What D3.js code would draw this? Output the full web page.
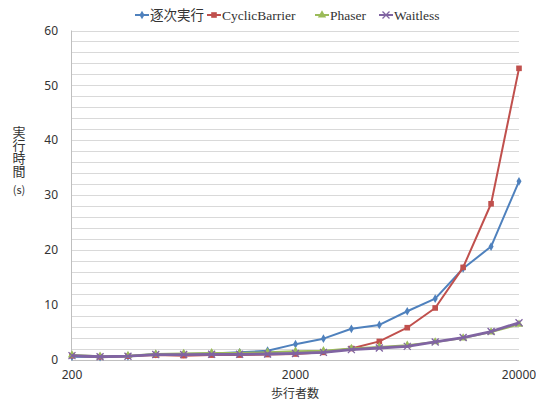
<!DOCTYPE html>
<html><head><meta charset="utf-8">
<script src="https://cdn.jsdelivr.net/npm/d3@7"></script>
<style>body{margin:0;background:#fff}svg{display:block}</style>
</head><body><svg id="c" width="536" height="401"></svg>
<script>
const walkers = [200, 267, 356, 474, 632, 843, 1125, 1500, 2000, 2667, 3557, 4743, 6325, 8434, 11247, 15000, 20000];
const sequential = [0.5, 0.45, 0.55, 1.0, 1.0, 1.1, 1.3, 1.6, 2.8, 3.8, 5.6, 6.3, 8.8, 11.1, 16.6, 20.6, 32.5];
const cyclicBarrier = [0.7, 0.5, 0.6, 0.8, 0.7, 0.8, 0.8, 0.9, 1.0, 1.3, 2.0, 3.3, 5.8, 9.4, 16.8, 28.4, 53.1];
const phaser = [0.8, 0.6, 0.7, 1.0, 1.1, 1.2, 1.2, 1.3, 1.5, 1.6, 2.0, 2.3, 2.6, 3.2, 3.9, 5.0, 6.4];
const waitless = [0.7, 0.5, 0.6, 0.9, 0.9, 0.95, 0.95, 1.0, 1.1, 1.3, 1.8, 2.1, 2.4, 3.2, 4.0, 5.1, 6.7];
const seriesNames = ["逐次実行", "CyclicBarrier", "Phaser", "Waitless"];
const seriesColors = ["#4F81BD", "#C0504D", "#9BBB59", "#8064A2"];
const xTicks = [200, 2000, 20000];
const yTicks = [0, 10, 20, 30, 40, 50, 60];
const yGrid = d3.range(0, 61, 2);
const yTitle = "実行時間";
const yUnit = "(s)";
const xTitle = "歩行者数";

const svg = d3.select("#c");
const x = d3.scaleLog().domain([200, 20000]).range([72, 519]);
const y = d3.scaleLinear().domain([0, 60]).range([359.5, 30.5]);
const L = 71, R = 519;

svg.append("g").selectAll("line").data(yGrid).join("line")
  .attr("x1", L).attr("x2", R)
  .attr("y1", d => Math.round(y(d)) + 0.5).attr("y2", d => Math.round(y(d)) + 0.5)
  .attr("stroke", d => d === 0 ? "#bfbfbf" : "#d9d9d9").attr("stroke-width", 1);
svg.append("line").attr("x1", L + 0.5).attr("x2", L + 0.5).attr("y1", y(60)).attr("y2", y(0))
  .attr("stroke", "#bfbfbf");

const tickFont = "'Noto Sans', 'DejaVu Sans', sans-serif";
svg.append("g").selectAll("text").data(yTicks).join("text")
  .attr("x", 58).attr("y", d => y(d)).attr("dy", "0.35em")
  .attr("text-anchor", "end").attr("font-family", tickFont).attr("font-size", 12).attr("fill", "#333")
  .text(d => d);
svg.append("g").selectAll("text").data(xTicks).join("text")
  .attr("x", d => x(d)).attr("y", 379)
  .attr("text-anchor", "middle").attr("font-family", tickFont).attr("font-size", 12).attr("fill", "#333")
  .text(d => d);

const cjk = "'Noto Sans CJK JP', 'Noto Sans', sans-serif";
svg.append("text").attr("x", 295).attr("y", 397.5).attr("text-anchor", "middle")
  .attr("font-family", cjk).attr("font-size", 12).attr("fill", "#333").text(xTitle);
svg.append("text").attr("x", 19).attr("y", 126)
  .attr("writing-mode", "vertical-rl").attr("text-anchor", "start")
  .attr("font-family", cjk).attr("font-size", 13).attr("fill", "#333").text(yTitle);
svg.append("text").attr("x", 19).attr("y", 194).attr("text-anchor", "middle")
  .attr("font-family", cjk).attr("font-size", 11).attr("fill", "#333").text(yUnit);

const allSeries = [sequential, cyclicBarrier, phaser, waitless];
const line = d3.line().x((d, i) => x(walkers[i])).y(d => y(d));

function marker(g, type, color, cx, cy) {
  if (type === 0) {
    g.append("path").attr("d", d3.symbol(d3.symbolDiamond, 22)()).attr("transform", `translate(${cx},${cy})`).attr("fill", color);
  } else if (type === 1) {
    g.append("rect").attr("x", cx - 2.8).attr("y", cy - 2.8).attr("width", 5.6).attr("height", 5.6).attr("fill", color);
  } else if (type === 2) {
    g.append("path").attr("d", d3.symbol(d3.symbolTriangle, 30)()).attr("transform", `translate(${cx},${cy})`).attr("fill", color);
  } else {
    g.append("path").attr("d", `M${cx-3.5},${cy-3.5}L${cx+3.5},${cy+3.5}M${cx-3.5},${cy+3.5}L${cx+3.5},${cy-3.5}`)
      .attr("stroke", color).attr("stroke-width", 1.3).attr("fill", "none");
  }
}

allSeries.forEach((vals, si) => {
  const g = svg.append("g");
  g.append("path").datum(vals).attr("d", line).attr("fill", "none")
    .attr("stroke", seriesColors[si]).attr("stroke-width", si === 3 ? 2.8 : 2).attr("stroke-linejoin", "round");
  vals.forEach((v, i) => marker(g, si, seriesColors[si], x(walkers[i]), y(v)));
});

const legendX = [135, 207, 315, 379];
const lg = svg.append("g");
seriesNames.forEach((name, i) => {
  const lx = legendX[i];
  lg.append("line").attr("x1", lx).attr("x2", lx + 14).attr("y1", 15).attr("y2", 15)
    .attr("stroke", seriesColors[i]).attr("stroke-width", 2);
  marker(lg, i, seriesColors[i], lx + 7, 15);
  lg.append("text").attr("x", lx + 15).attr("y", 15).attr("dy", "0.35em")
    .attr("font-family", "'Liberation Serif', 'Noto Sans CJK JP', serif").attr("font-size", 13.5).attr("fill", "#333")
    .text(name);
});
</script></body></html>
